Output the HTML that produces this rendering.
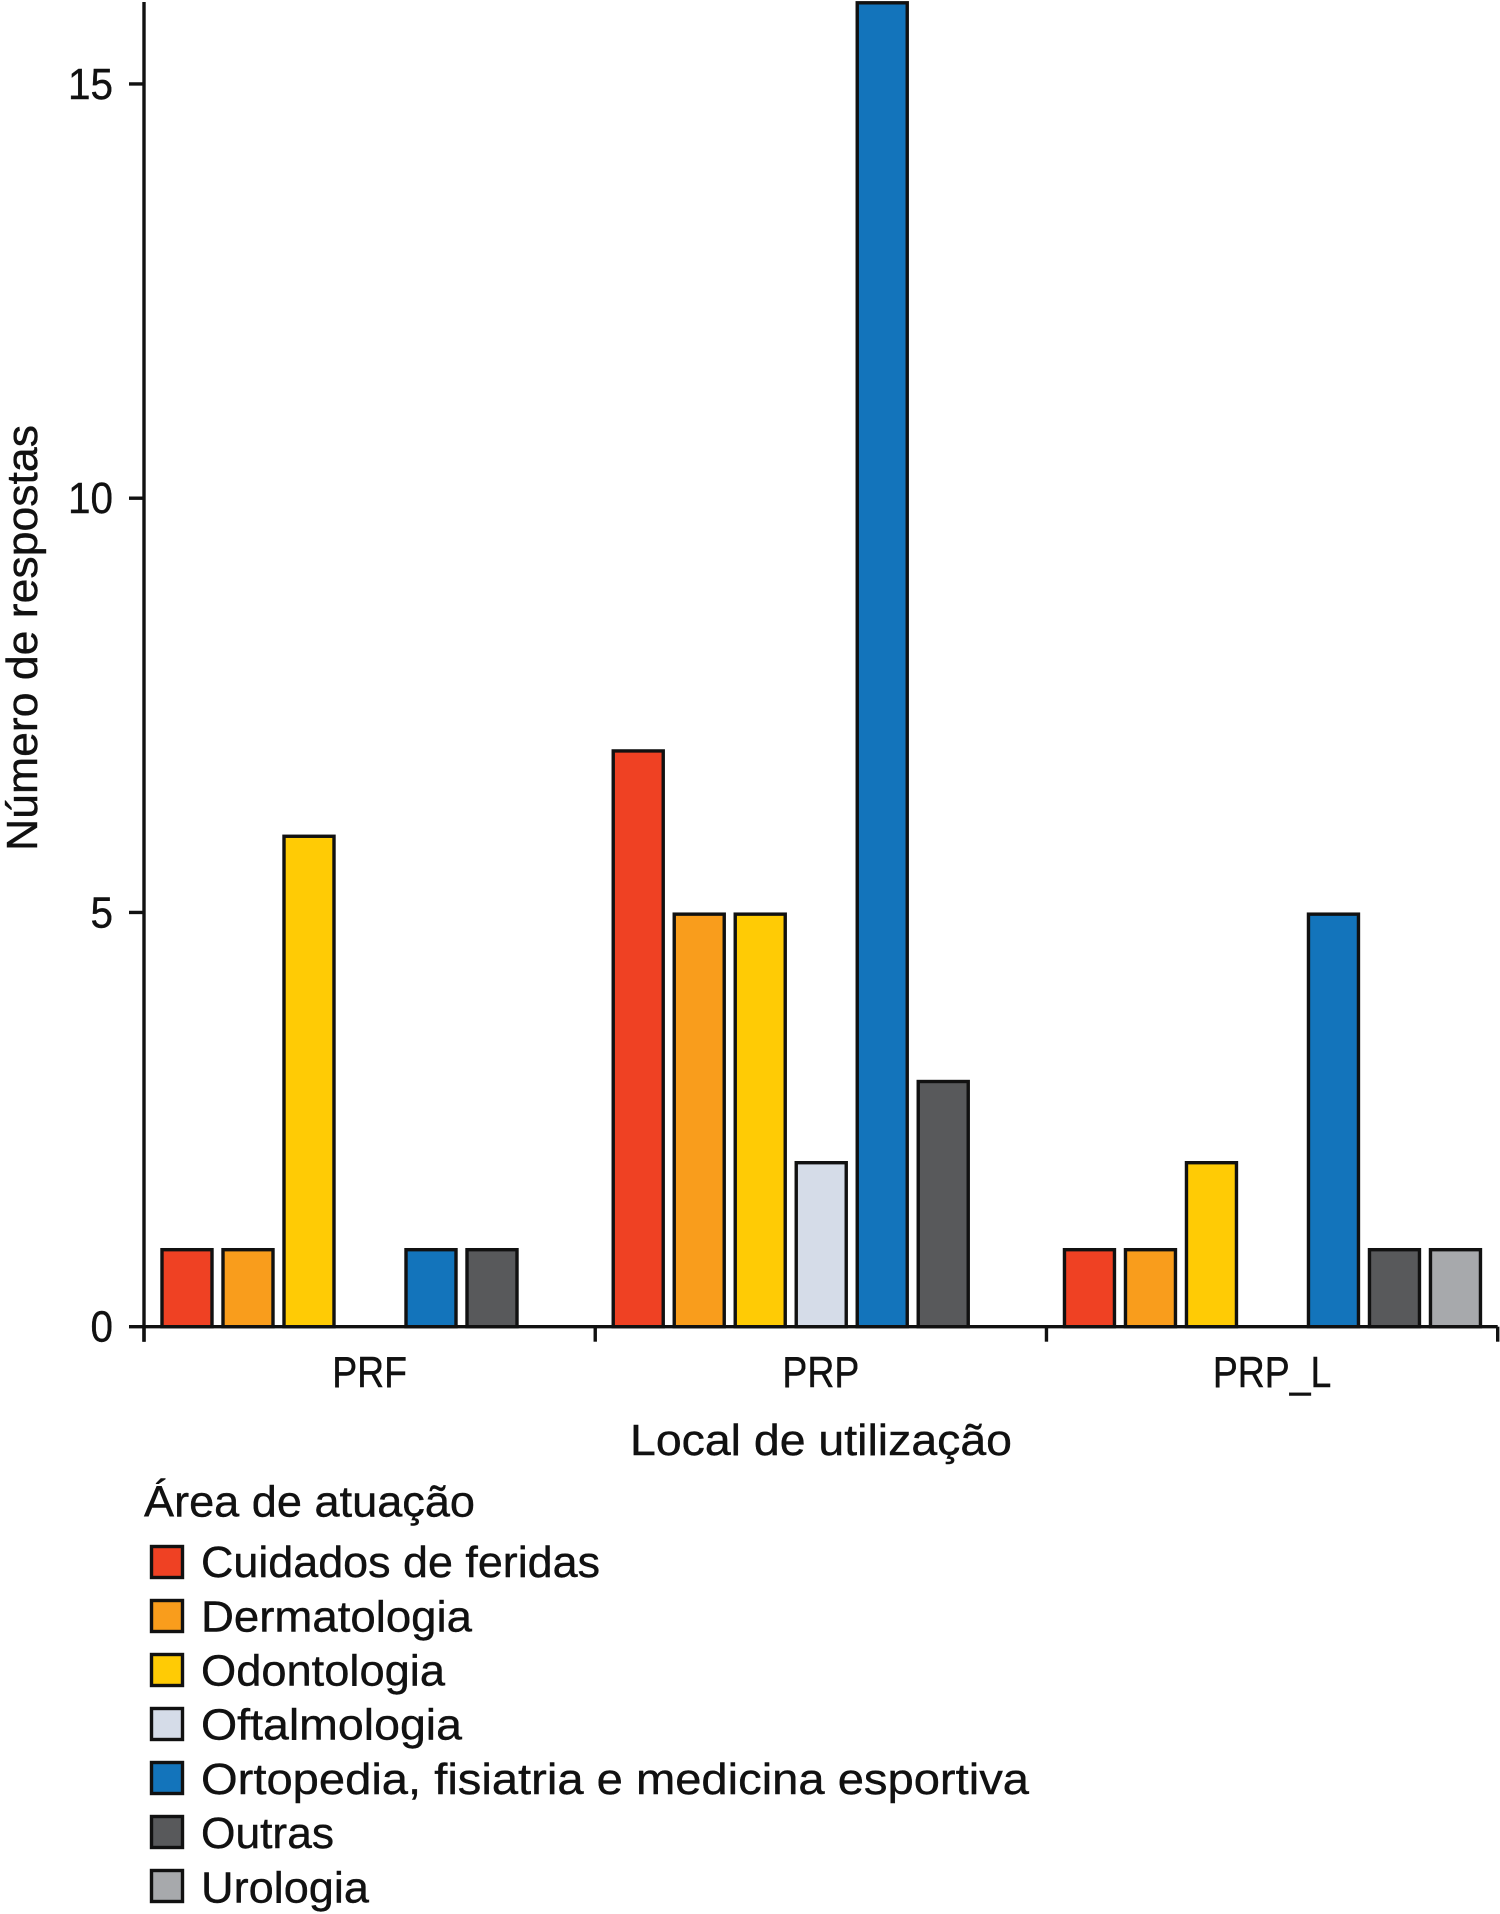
<!DOCTYPE html>
<html lang="pt">
<head>
<meta charset="utf-8">
<title>Número de respostas por local de utilização</title>
<style>
  html, body { margin: 0; padding: 0; background: #fff; }
  svg { display: block; }
  text { font-family: "Liberation Sans", "DejaVu Sans", sans-serif; font-size: 44px; fill: #111; stroke: #111; stroke-width: 0.4px; }
</style>
</head>
<body>
<svg id="chart" xmlns="http://www.w3.org/2000/svg" width="1500" height="1914" viewBox="0 0 1500 1914">
  <rect x="0" y="0" width="1500" height="1914" fill="#ffffff"/>
  <g id="bars"></g>
  <g id="axes" stroke="#111" stroke-width="3.4" fill="none"></g>
  <g id="labels"></g>

  <text transform="translate(37,851) rotate(-90)" textLength="426" lengthAdjust="spacingAndGlyphs">Número de respostas</text>
  <text x="630" y="1455" textLength="382" lengthAdjust="spacingAndGlyphs">Local de utilização</text>

  <g>
    <text x="144" y="1516.5" textLength="331" lengthAdjust="spacingAndGlyphs">Área de atuação</text>

    <rect x="151.5" y="1546.5" width="31" height="31" fill="#EF4123" stroke="#111" stroke-width="3.4"/>
    <text x="201" y="1577" textLength="399" lengthAdjust="spacingAndGlyphs">Cuidados de feridas</text>

    <rect x="151.5" y="1600.5" width="31" height="31" fill="#F99D1C" stroke="#111" stroke-width="3.4"/>
    <text x="201" y="1631.5" textLength="271" lengthAdjust="spacingAndGlyphs">Dermatologia</text>

    <rect x="151.5" y="1654.5" width="31" height="31" fill="#FFCB05" stroke="#111" stroke-width="3.4"/>
    <text x="201" y="1685.5" textLength="244" lengthAdjust="spacingAndGlyphs">Odontologia</text>

    <rect x="151.5" y="1708.5" width="31" height="31" fill="#D5DCE8" stroke="#111" stroke-width="3.4"/>
    <text x="201" y="1739.5" textLength="261" lengthAdjust="spacingAndGlyphs">Oftalmologia</text>

    <rect x="151.5" y="1762.5" width="31" height="31" fill="#1374BB" stroke="#111" stroke-width="3.4"/>
    <text x="201" y="1794" textLength="828" lengthAdjust="spacingAndGlyphs">Ortopedia, fisiatria e medicina esportiva</text>

    <rect x="151.5" y="1816.5" width="31" height="31" fill="#58595B" stroke="#111" stroke-width="3.4"/>
    <text x="201" y="1848" textLength="133" lengthAdjust="spacingAndGlyphs">Outras</text>

    <rect x="151.5" y="1870.5" width="31" height="31" fill="#A7A9AC" stroke="#111" stroke-width="3.4"/>
    <text x="201" y="1902.5" textLength="168" lengthAdjust="spacingAndGlyphs">Urologia</text>
  </g>
</svg>
<script>
// Chart data.
const categories = ['PRF', 'PRP', 'PRP_L'];
const yTicks = [0, 5, 10, 15];
const yMax = 16;
const seriesNames = ['cuidados-de-feridas', 'dermatologia', 'odontologia', 'oftalmologia', 'ortopedia', 'outras', 'urologia'];
const seriesColors = ['#EF4123', '#F99D1C', '#FFCB05', '#D5DCE8', '#1374BB', '#58595B', '#A7A9AC'];
const cuidadosDeFeridas = [0.95, 6.97, 0.95];
const dermatologia = [0.95, 5, 0.95];
const odontologia = [5.94, 5, 2];
const oftalmologia = [0, 2, 0];
const ortopedia = [0.95, 16, 5];
const outras = [0.95, 2.98, 0.95];
const urologia = [0, 0, 0.95];
const seriesValues = [cuidadosDeFeridas, dermatologia, odontologia, oftalmologia, ortopedia, outras, urologia];

const SVG_NS = 'http://www.w3.org/2000/svg';
const plotLeft = 144;
const plotRight = 1497.7;
const plotBottom = 1326.7;
const unitHeight = 82.85;
const strokeWidth = 3.4;
const tickLength = 15;
const bandWidth = (plotRight - plotLeft) / categories.length;
const barStep = 61;
const barInset = 18;
const barWidth = 50;
const digitWidth = 22.5;
const categoryCompression = 0.85;

function yScale(value) {
  return plotBottom - value * unitHeight;
}
function bandStart(index) {
  return plotLeft + index * bandWidth;
}
function make(tag, attrs, parent) {
  const el = document.createElementNS(SVG_NS, tag);
  Object.keys(attrs).forEach(function (key) { el.setAttribute(key, attrs[key]); });
  parent.appendChild(el);
  return el;
}

const barsGroup = document.getElementById('bars');
const axesGroup = document.getElementById('axes');
const labelsGroup = document.getElementById('labels');

seriesValues.forEach(function (values, s) {
  values.forEach(function (value, c) {
    const top = yScale(value) + strokeWidth / 2;
    const bar = make('rect', {
      x: bandStart(c) + barInset + s * barStep,
      y: top,
      width: barWidth,
      height: Math.max(0, plotBottom - top),
      fill: seriesColors[s],
      stroke: '#111',
      'stroke-width': strokeWidth
    }, barsGroup);
    
    
  });
});

const yAxisLine = make('line', { x1: plotLeft, y1: 2, x2: plotLeft, y2: plotBottom + tickLength }, axesGroup);



const xAxisLine = make('line', { x1: plotLeft, y1: plotBottom, x2: plotRight, y2: plotBottom }, axesGroup);



yTicks.forEach(function (tick) {
  const y = yScale(tick);
  const mark = make('line', { x1: plotLeft - tickLength, y1: y, x2: plotLeft, y2: y }, axesGroup);
  
  
  const text = String(tick);
  const label = make('text', {
    x: 113 - text.length * digitWidth,
    y: y + 15,
    textLength: text.length * digitWidth,
    lengthAdjust: 'spacingAndGlyphs'
  }, labelsGroup);
  
  
  label.textContent = text;
});

categories.forEach(function (category, c) {
  const x = bandStart(c);
  const mark = make('line', { x1: x, y1: plotBottom, x2: x, y2: plotBottom + tickLength }, axesGroup);
  
  
  const label = make('text', { x: x + bandWidth / 2, y: 1387, 'text-anchor': 'middle' }, labelsGroup);
  
  
  label.textContent = category;
  label.setAttribute('textLength', label.getComputedTextLength() * categoryCompression);
  label.setAttribute('lengthAdjust', 'spacingAndGlyphs');
});

const endTick = make('line', { x1: plotRight, y1: plotBottom, x2: plotRight, y2: plotBottom + tickLength }, axesGroup);


</script>
</body>
</html>
